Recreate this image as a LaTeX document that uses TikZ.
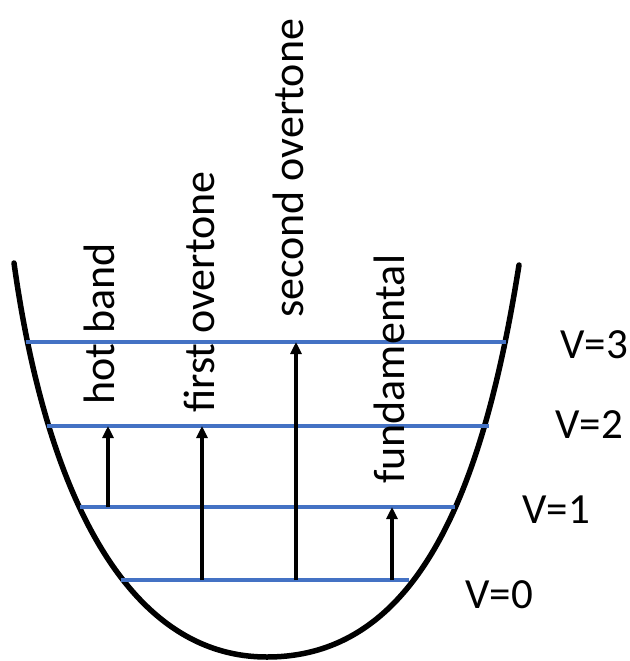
\documentclass[tikz,border=0pt]{standalone}
\usepackage{fontspec}
\setmainfont{Carlito}
\usetikzlibrary{arrows.meta}
\definecolor{lvlblue}{HTML}{4472C4}
\tikzset{
  level/.style={draw=lvlblue, line width=3.5pt},
  trans/.style={draw=black, line width=3.4pt, -{Triangle[width=11pt,length=12pt]}},
  vlabel/.style={anchor=base west, inner sep=0pt, font=\fontsize{43}{50}\selectfont},
  rlabel/.style={anchor=base west, inner sep=0pt, rotate=90, font=\fontsize{44}{50}\selectfont},
  well/.style={draw=black, line width=5.5pt, line cap=round}
}
\begin{document}
\begin{tikzpicture}[x=1pt,y=-1pt]
\useasboundingbox (0,0) rectangle (629,661);
% potential well
\coordinate (wl) at (14,263);
\coordinate (wb) at (267,657);
\coordinate (wr) at (519,265);
\draw[well] (wl) .. controls (46,493) and (127,657) .. (wb)
                 .. controls (417,657) and (483,493) .. (wr);
% levels
\coordinate (l3a) at (26,342);  \coordinate (l3b) at (506,342);
\coordinate (l2a) at (47,426);  \coordinate (l2b) at (489,426);
\coordinate (l1a) at (80,507);  \coordinate (l1b) at (455,507);
\coordinate (l0a) at (121,580); \coordinate (l0b) at (409,580);
\draw[level] (l3a) -- (l3b);
\draw[level] (l2a) -- (l2b);
\draw[level] (l1a) -- (l1b);
\draw[level] (l0a) -- (l0b);
% transitions
\coordinate (hb0) at (108,507); \coordinate (hb1) at (108,426);
\coordinate (fo0) at (202,580); \coordinate (fo1) at (202,426);
\coordinate (so0) at (296,580); \coordinate (so1) at (296,342);
\coordinate (fu0) at (392,580); \coordinate (fu1) at (392,507);
\draw[trans] (hb0) -- (hb1);
\draw[trans] (fo0) -- (fo1);
\draw[trans] (so0) -- (so1);
\draw[trans] (fu0) -- (fu1);
% rotated labels
\node[rlabel] (thb) at (114,405) {hot band};
\node[rlabel] (tfo) at (214,413) {first overtone};
\node[rlabel] (tso) at (303,318) {second overtone};
\node[rlabel] (tfu) at (404,484) {fundamental};
% level labels
\node[vlabel] (v3) at (560,358) {V=3};
\node[vlabel] (v2) at (555,438) {V=2};
\node[vlabel] (v1) at (522,523) {V=1};
\node[vlabel] (v0) at (465,608) {V=0};
\end{tikzpicture}
\end{document}
